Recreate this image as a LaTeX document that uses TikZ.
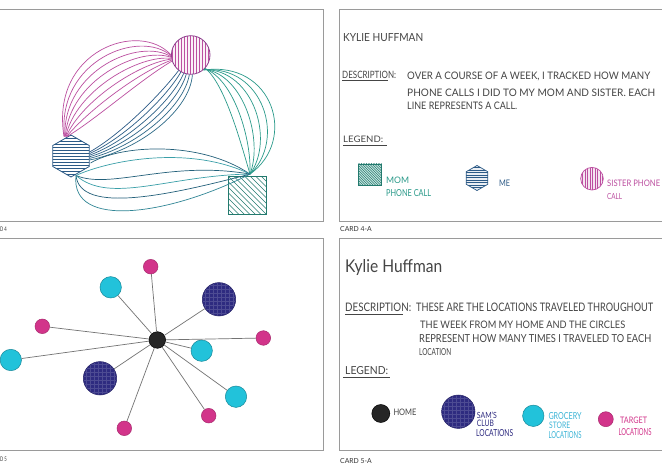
\documentclass[tikz,border=0pt]{standalone}
\usepackage{fontspec}
\usepackage{graphicx}
\setmainfont{Lato}
\usetikzlibrary{shapes.geometric,calc}
\definecolor{framegray}{HTML}{9A9A9A}
\definecolor{mag}{HTML}{BC4FA0}
\definecolor{magdark}{HTML}{8E3F8E}
\definecolor{blueink}{HTML}{2C5A86}
\definecolor{blueteal}{HTML}{2E7488}
\definecolor{tealink}{HTML}{2A9A8A}
\definecolor{tealdark}{HTML}{237A6E}
\definecolor{lowdark}{HTML}{23607A}
\definecolor{lowlight}{HTML}{3A9FA8}
\definecolor{navy}{HTML}{2E2B80}
\definecolor{cyanink}{HTML}{22C2DA}
\definecolor{pinkink}{HTML}{D2348A}
\definecolor{inkgray}{HTML}{454545}
\definecolor{legcyan}{HTML}{3BB4D6}
\newcommand\hwtext[3]{\resizebox{#1pt}{#2pt}{#3}}
\tikzset{
  frame/.style={draw=framegray, line width=1pt},
  txt/.style={anchor=base west, inner sep=0pt, text=inkgray},
  ul/.style={draw=inkgray, line width=0.6pt},
  curve/.style={line width=0.7pt},
  spoke/.style={draw=black!55, line width=0.7pt},
  pinkdot/.style={circle, fill=pinkink, draw=pinkink!80!black, line width=0.5pt, minimum size=14.6pt, inner sep=0pt},
  cyandot/.style={circle, fill=cyanink, draw=cyanink!70!black, line width=0.5pt, minimum size=21.4pt, inner sep=0pt},
  navydot/.style={circle, fill=navy, draw=navy!80!black, line width=0.5pt, minimum size=33.4pt, inner sep=0pt,
    path picture={\foreach \i in {-18,-14,...,18} {\draw[navy!85!white, line width=0.25pt] ($(path picture bounding box.center)+(\i,-20)$) -- ++(0,40); \draw[navy!85!white, line width=0.25pt] ($(path picture bounding box.center)+(-20,\i)$) -- ++(40,0);}}},
  homedot/.style={circle, fill=black!85, draw=black, line width=0.5pt, minimum size=16.6pt, inner sep=0pt},
  cardlabel/.style={anchor=base west, inner sep=0pt, text=black!80},
}
\begin{document}
\begin{tikzpicture}[x=1pt,y=-1pt]
\useasboundingbox (0,0) rectangle (662,468);
\fill[white] (0,0) rectangle (662,468);

% ---------- card frames ----------
\draw[frame] (0,10) -- (323,10) -- (323,222) -- (0,222);
\draw[frame] (662,10) -- (339,10) -- (339,222) -- (662,222);
\draw[frame] (0,239) -- (323,239) -- (323,450) -- (0,450);
\draw[frame] (662,239) -- (339,239) -- (339,450) -- (662,450);
\node[cardlabel] (l4) at (0,231) {\hwtext{6.7}{4.5}{D 4}};
\node[cardlabel] (l4a) at (340,231.5) {\hwtext{31.5}{5}{CARD 4-A}};
\node[cardlabel] (l5) at (0,461) {\hwtext{6.7}{4.5}{D 5}};
\node[cardlabel] (l5a) at (340,463) {\hwtext{31.5}{5}{CARD 5-A}};

% ---------- card 4 ----------
\node[circle, draw=magdark, line width=0.8pt, fill=mag!8, minimum size=38.6pt, inner sep=0pt,
  path picture={\foreach \i in {-18,-15,...,18} \draw[mag, line width=0.5pt] ($(path picture bounding box.center)+(\i,-25)$) -- ++(0,50);}]
  (sis) at (190.7,55) {};
\node[regular polygon, regular polygon sides=6, shape border rotate=30, draw=blueink, line width=0.8pt, minimum size=42pt, inner sep=0pt,
  path picture={\foreach \i in {-21,-18,...,21} \draw[blueink, line width=0.5pt] ($(path picture bounding box.center)+(-25,\i)$) -- ++(50,0);}]
  (hex) at (71,156) {};
\node[rectangle, draw=tealdark, line width=0.8pt, minimum width=38.4pt, minimum height=37.6pt, inner sep=0pt,
  path picture={\foreach \i in {-44,-38.5,...,44} \draw[tealdark, line width=0.5pt] ($(path picture bounding box.center)+(\i-22,-22)$) -- ++(44,44);}]
  (mom) at (247.5,195.5) {};
\coordinate (conv) at ($(mom.north)+(2.5,-2.2)$);

% magenta: me -> sister
\foreach \i in {0,...,7} {
  \pgfmathsetmacro\t{\i/7}
  \draw[curve, mag] ($(hex.north)+({-7+3*\t},2)$) .. controls ({50+45*\t},{50+70*\t}) and (140,{20+60*\t}) .. (sis.{180+18*\t});
}
% blue: me -> sister bottom
\foreach \i in {0,...,5} {
  \pgfmathsetmacro\t{\i/5}
  \pgfmathsetmacro\mix{100-60*\t}
  \draw[curve, blueink!\mix!blueteal] ($(hex.east)+(0,{-4+8*\t})$) .. controls ({120+20*\t},{135+15*\t}) and ({160+30*\t},{95+15*\t}) .. (sis.{232+43*\t});
}
% teal: sister -> mom
\foreach \i in {0,...,5} {
  \pgfmathsetmacro\t{\i/5}
  \draw[curve, tealink] (sis.{318-8*\t}) .. controls ({225+48*\t},{85-25*\t}) and ({240+58*\t},140) .. (conv);
}
% lower: me -> mom
\draw[curve, lowdark] ($(hex.east)+(1,7)$) .. controls (120,145) and (200,140) .. (conv);
\draw[curve, lowlight] ($(hex.south)+(5,-2)$) .. controls (110,160) and (190,145) .. (conv);
\draw[curve, lowdark] ($(hex.south)+(5,-2)$) .. controls (110,190) and (170,160) .. (conv);
\draw[curve, lowlight] ($(hex.south)+(5,-2)$) .. controls (110,205) and (170,175) .. (conv);
\draw[curve, lowdark] ($(hex.south)+(5,-2)$) .. controls (80,215) and (170,195) .. (conv);
\draw[curve, lowlight!60!lowdark] ($(hex.south)+(5,-2)$) .. controls (70,230) and (170,215) .. (conv);

% ---------- card 4-A ----------
\node[txt] (name4) at (343,41.7) {\hwtext{80}{8}{KYLIE HUFFMAN}};
\node[txt] (desc4) at (342,78.5) {\hwtext{54}{7.3}{DESCRIPTION:}};
\draw[ul] (342,80.8) -- (388,80.8);
\node[txt] (d4a) at (407,80) {\hwtext{243}{7.5}{OVER A COURSE OF A WEEK, I TRACKED HOW MANY}};
\node[txt] (d4b) at (407,96.5) {\hwtext{248}{7.5}{PHONE CALLS I DID TO MY MOM AND SISTER. EACH}};
\node[txt] (d4c) at (407,110) {\hwtext{110}{7.5}{LINE REPRESENTS A CALL.}};
\node[txt] (leg4) at (343,142.7) {\hwtext{40}{6.5}{LEGEND:}};
\draw[ul] (343,145.7) -- (387,145.7);

\node[rectangle, draw=tealdark, line width=0.7pt, fill=tealink!25, minimum width=23.4pt, minimum height=21pt, inner sep=0pt,
  path picture={\foreach \i in {-30,-27.5,...,30} \draw[tealdark, line width=0.45pt] ($(path picture bounding box.center)+(\i-15,-15)$) -- ++(30,30);}]
  (legmom) at (370,174.5) {};
\node[txt, text=tealink] (tmom1) at (386,183.3) {\hwtext{23}{6.5}{MOM}};
\node[txt, text=tealink] (tmom2) at (386,196.7) {\hwtext{45}{7}{PHONE CALL}};

\node[regular polygon, regular polygon sides=6, shape border rotate=30, draw=blueink, line width=0.7pt, fill=blueink!10, minimum size=25pt, inner sep=0pt,
  path picture={\foreach \i in {-13,-10.5,...,13} \draw[blueink, line width=0.45pt] ($(path picture bounding box.center)+(-15,\i)$) -- ++(30,0);}]
  (legme) at (477,178) {};
\node[txt, text=blueink] (tme) at (499,186.5) {\hwtext{11}{6.5}{ME}};

\node[circle, draw=mag, line width=0.7pt, fill=mag!15, minimum size=22.6pt, inner sep=0pt,
  path picture={\foreach \i in {-12,-9.5,...,12} \draw[mag, line width=0.45pt] ($(path picture bounding box.center)+(\i,-14)$) -- ++(0,28);}]
  (legsis) at (592,178.7) {};
\node[txt, text=mag] (tsis1) at (607,186.7) {\hwtext{53}{6.5}{SISTER PHONE}};
\node[txt, text=mag] (tsis2) at (607,199.3) {\hwtext{15}{6}{CALL}};

% ---------- card 5 ----------
\node[homedot] (home) at (157.3,340) {};
\node[pinkdot] (p1) at (150.7,266.7) {};
\node[pinkdot] (p2) at (42.3,326.3) {};
\node[pinkdot] (p3) at (263.3,338) {};
\node[pinkdot] (p4) at (208.7,415.7) {};
\node[pinkdot] (p5) at (124.3,428.3) {};
\node[cyandot] (c1) at (110.7,287.3) {};
\node[cyandot] (c2) at (10.8,360) {};
\node[cyandot] (c3) at (201.7,350.7) {};
\node[cyandot] (c4) at (236,396.7) {};
\node[navydot] (n1) at (219,299.3) {};
\node[navydot] (n2) at (100,378.3) {};
\foreach \d in {p1,p2,p3,p4,p5,c1,c2,c3,c4,n1,n2}
  \draw[spoke] (home) -- (\d);

% ---------- card 5-A ----------
\node[txt] (name5) at (345,272.5) {\hwtext{97}{13}{Kylie Huffman}};
\node[txt] (desc5) at (345,311.3) {\hwtext{66}{8.5}{DESCRIPTION:}};
\draw[ul] (345,314) -- (403,314);
\node[txt] (d5a) at (416,311.3) {\hwtext{237}{8.5}{THESE ARE THE LOCATIONS TRAVELED THROUGHOUT}};
\node[txt] (d5b) at (420,328) {\hwtext{205}{7.5}{THE WEEK FROM MY HOME AND THE CIRCLES}};
\node[txt] (d5c) at (419,342.3) {\hwtext{232}{8}{REPRESENT HOW MANY TIMES I TRAVELED TO EACH}};
\node[txt] (d5d) at (419,355.7) {\hwtext{32}{7}{LOCATION}};
\node[txt] (leg5) at (345,374) {\hwtext{43}{8}{LEGEND:}};
\draw[ul] (343,377.3) -- (390,377.3);

\node[homedot, minimum size=18pt] (lhome) at (380.8,413.5) {};
\node[txt] (thome) at (393.3,415) {\hwtext{23}{6.5}{HOME}};
\node[navydot] (lsam) at (458.3,411.7) {};
\node[txt, text=navy] (tsam1) at (476.7,418.3) {\hwtext{20}{6.5}{SAM'S}};
\node[txt, text=navy] (tsam2) at (476.7,426.7) {\hwtext{17}{6.5}{CLUB}};
\node[txt, text=navy] (tsam3) at (476,436.7) {\hwtext{37}{7}{LOCATIONS}};
\node[cyandot] (lgro) at (533.3,415.8) {};
\node[txt, text=legcyan] (tgro1) at (548.3,419.3) {\hwtext{33}{7}{GROCERY}};
\node[txt, text=legcyan] (tgro2) at (549,428.3) {\hwtext{21}{6.5}{STORE}};
\node[txt, text=legcyan] (tgro3) at (548.3,438.3) {\hwtext{33}{7}{LOCATIONS}};
\node[pinkdot, minimum size=15pt] (ltar) at (605.8,419.2) {};
\node[txt, text=pinkink] (ttar1) at (620,423.3) {\hwtext{27}{6.5}{TARGET}};
\node[txt, text=pinkink] (ttar2) at (618.3,435) {\hwtext{33}{7}{LOCATIONS}};
\end{tikzpicture}
\end{document}
